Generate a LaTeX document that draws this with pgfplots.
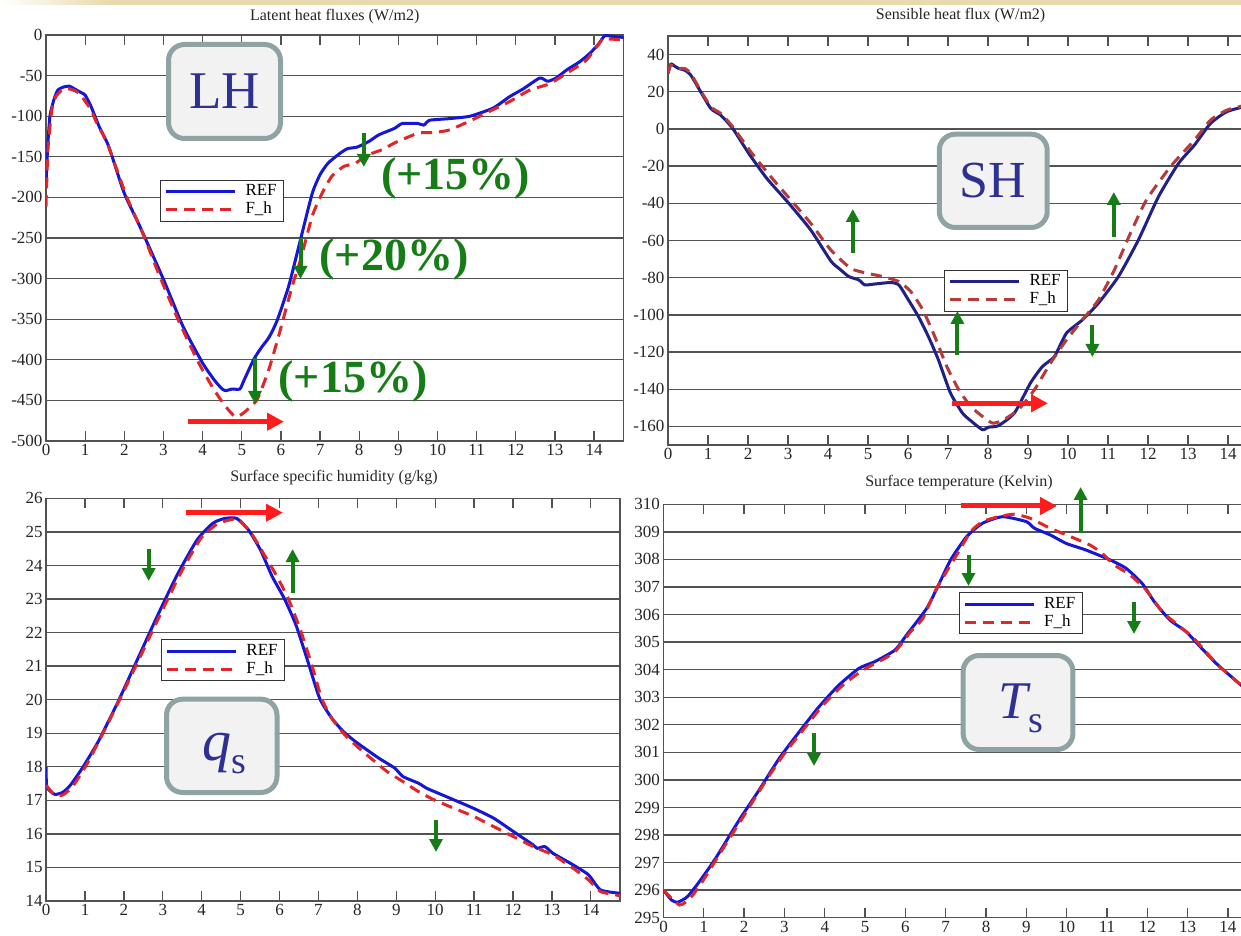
\documentclass[border=0pt]{standalone}
\usepackage{pgfplots}
\pgfplotsset{compat=1.18}
\usepackage{fontspec}
\setmainfont{Liberation Serif}
\usetikzlibrary{arrows.meta}

\definecolor{refblue}{RGB}{22,22,215}
\definecolor{fhred}{RGB}{225,38,42}
\definecolor{shblue}{RGB}{32,32,135}
\definecolor{shred}{RGB}{182,58,58}
\definecolor{gridgray}{RGB}{82,82,82}
\definecolor{boxedge}{RGB}{143,163,164}
\definecolor{boxfill}{RGB}{242,242,242}
\definecolor{labelblue}{RGB}{46,49,146}
\definecolor{annogreen}{RGB}{22,125,22}
\definecolor{annored}{RGB}{255,28,28}
\definecolor{beige}{RGB}{232,218,172}

\pgfplotsset{
  panel/.style={
    scale only axis, anchor=south west,
    xmin=0, xmax=14.75, xtick={0,...,14},
    ymajorgrids, grid style={gridgray, line width=1.3pt},
    axis line style={gridgray, line width=1.3pt},
    tick style={gridgray, line width=1.3pt},
    tick align=inside, major tick length=10pt,
    ticklabel style={font=\fontsize{17}{19}\selectfont, black!85},
    /pgf/number format/assume math mode=true,
    legend cell align=left,
    legend image code/.code={\draw[##1] (0pt,0pt) -- (69pt,0pt);},
    legend style={anchor=north west, draw=black!80, line width=1pt, fill=white,
      font=\fontsize{17}{17}\selectfont, inner xsep=4pt, inner ysep=2.5pt,
      row sep=0pt,
      nodes={inner xsep=3pt, inner ysep=1pt, text height=12pt, text depth=4pt},
      /tikz/every odd column/.append style={column sep=6pt}},
  },
  ref/.style={line width=3pt, line join=round, smooth, tension=0.35},
  fh/.style={line width=3pt, dash pattern=on 11pt off 7pt, smooth, tension=0.35},
}

\tikzset{
  garrow/.style={annogreen, line width=4pt, -{Triangle[width=13pt,length=13pt]}},
  rarrow/.style={annored, line width=5pt, -{Triangle[width=17pt,length=17pt]}},
  pct/.style={annogreen, inner sep=0pt, font=\bfseries\fontsize{46}{46}\selectfont},
  lbox/.style={boxedge, line width=5pt, fill=boxfill, rounded corners=16pt},
  ttl/.style={font=\fontsize{16}{18}\selectfont, black!85},
}

\begin{document}
\begin{tikzpicture}
\useasboundingbox (0pt,0pt) rectangle (1241pt,935pt);
\fill[white] (0pt,0pt) rectangle (1241pt,935pt);
\begin{scope}
\clip (0pt,0pt) rectangle (1241pt,935pt);

% ---------------- Latent heat flux ----------------
\begin{axis}[panel, at={(46pt,494pt)}, width=577.5pt, height=406pt,
  ymin=-500, ymax=0, ytick={-500,-450,...,0},
  yticklabels={-500,-450,-400,-350,-300,-250,-200,-150,-100,-50,0},
  legend style={at={(rel axis cs:0.1974,0.6429)}}]
\addplot[refblue, ref] coordinates {
(0,-185) (0.04,-140) (0.1,-100) (0.2,-80) (0.3,-68) (0.45,-64) (0.6,-63)
(0.75,-67) (0.9,-71) (1.0,-74) (1.15,-88) (1.36,-113) (1.6,-137) (2.0,-195)
(2.4,-236) (3.0,-301) (3.5,-359) (4.0,-404) (4.3,-425) (4.5,-436) (4.6,-438)
(4.75,-436) (4.95,-436) (5.05,-426) (5.3,-400) (5.5,-385) (5.7,-372) (5.9,-352)
(6.2,-309) (6.5,-252) (6.8,-195) (7.0,-172) (7.2,-158) (7.5,-146) (7.7,-140)
(7.95,-138) (8.25,-131) (8.5,-123) (8.9,-115) (9.1,-109) (9.5,-109) (9.65,-111)
(9.8,-105) (10.3,-103) (10.83,-100) (11.42,-90) (11.84,-76) (12.2,-66)
(12.61,-53) (12.81,-57) (13.03,-53) (13.3,-43) (13.63,-33) (13.88,-23)
(14.1,-12) (14.27,-1) (14.5,-2) (14.75,-3)};
\addlegendentry{REF}
\addplot[fhred, fh] coordinates {
(0,-211) (0.05,-141) (0.15,-92) (0.25,-76) (0.4,-68) (0.55,-66) (0.7,-68)
(0.85,-72) (1.15,-92) (1.3,-109) (1.56,-133) (2.06,-199) (2.47,-244)
(2.87,-293) (3.37,-350) (3.88,-402) (4.28,-436) (4.58,-457) (4.83,-470)
(5.03,-466) (5.39,-449) (5.69,-412) (5.94,-371) (6.29,-309) (6.5,-277)
(6.8,-223) (7.05,-195) (7.3,-174) (7.6,-162) (7.9,-158) (8.2,-148) (8.6,-141)
(8.9,-133) (9.5,-121) (9.9,-120) (10.3,-117) (10.91,-104) (11.33,-94)
(11.84,-82) (12.35,-68) (12.86,-60) (13.37,-45) (13.8,-31) (14.22,-5)
(14.4,-5) (14.75,-6)};
\addlegendentry{F\_h}
\end{axis}

% ---------------- Sensible heat flux ----------------
\begin{axis}[panel, at={(668pt,490pt)}, width=590pt, height=409pt,
  ymin=-170, ymax=50, ytick={-160,-140,...,40},
  yticklabels={-160,-140,-120,-100,-80,-60,-40,-20,0,20,40},
  legend style={at={(rel axis cs:0.4678,0.4279)}}]
\addplot[shblue, ref] coordinates {
(0,30) (0.07,35) (0.15,34) (0.27,32.5) (0.42,31.6) (0.57,28.9) (0.77,21.7)
(1.07,11) (1.32,7.4) (1.62,0.2) (2.02,-13.2) (2.47,-26.6) (3.02,-40)
(3.57,-54.4) (4.07,-71) (4.3,-75.5) (4.52,-79.4) (4.77,-81.2) (4.92,-83.9)
(5.17,-83.4) (5.57,-82.6) (5.77,-83.9) (5.96,-90.2) (6.26,-100.9)
(6.51,-111.7) (6.76,-124.2) (7.06,-142) (7.36,-152.8) (7.56,-156.8)
(7.86,-161.8) (8.01,-160.4) (8.26,-159.6) (8.66,-152.8) (9.06,-136.7)
(9.36,-127.8) (9.66,-122.4) (9.96,-109.9) (10.36,-102.7) (10.76,-93.7)
(11.26,-79.4) (11.76,-59.7) (12.26,-36.5) (12.76,-18.6) (13.16,-8.7)
(13.56,2.9) (13.96,9.2) (14.44,12.2) (14.75,13.5)};
\addlegendentry{REF}
\addplot[shred, fh] coordinates {
(0,29.8) (0.07,34.3) (0.27,32.5) (0.42,32.5) (0.57,29.8) (0.77,22.3)
(1.07,11.9) (1.32,8.3) (1.62,1.1) (2.07,-12.3) (2.57,-25.7) (3.07,-38.2)
(3.57,-50.8) (4.07,-65.1) (4.57,-75) (4.97,-77.6) (5.37,-79.4) (5.77,-82.1)
(6.07,-87.5) (6.37,-97.3) (6.67,-111.7) (6.97,-127.8) (7.27,-140.3)
(7.57,-149.3) (7.86,-154.6) (8.11,-158.2) (8.36,-156.8) (8.76,-151)
(9.16,-140.3) (9.56,-126) (9.96,-113.5) (10.36,-102.7) (10.76,-92)
(11.16,-75.8) (11.56,-56.1) (11.96,-38.2) (12.56,-20.3) (13.16,-6)
(13.56,4.7) (13.96,10) (14.44,12.8) (14.75,14)};
\addlegendentry{F\_h}
\end{axis}

% ---------------- Surface specific humidity ----------------
\begin{axis}[panel, at={(46.1pt,34pt)}, width=573.9pt, height=402.7pt,
  ymin=14, ymax=26, ytick={14,...,26},
  yticklabels={14,15,16,17,18,19,20,21,22,23,24,25,26},
  legend style={at={(rel axis cs:0.2002,0.6506)}}]
\addplot[refblue, ref] coordinates {
(0,18.0) (0.02,17.4) (0.22,17.18) (0.43,17.24) (0.63,17.46) (0.93,17.96)
(1.34,18.75) (1.85,19.94) (2.36,21.23) (2.87,22.52) (3.37,23.72) (3.88,24.76)
(4.29,25.26) (4.59,25.4) (4.9,25.4) (5.2,25.06) (5.51,24.46) (5.81,23.67)
(6.12,23.02) (6.42,22.23) (6.73,21.13) (7.03,20.04) (7.34,19.45) (7.64,19.05)
(7.95,18.75) (8.25,18.5) (8.56,18.25) (8.96,17.96) (9.17,17.71) (9.57,17.51)
(9.78,17.36) (9.98,17.26) (10.49,17.01) (10.99,16.76) (11.5,16.47)
(12.01,16.07) (12.52,15.67) (12.62,15.57) (12.82,15.62) (13.03,15.42)
(13.54,15.08) (13.94,14.78) (14.25,14.33) (14.75,14.23)};
\addlegendentry{REF}
\addplot[fhred, fh] coordinates {
(0,17.45) (0.22,17.16) (0.43,17.16) (0.68,17.41) (1.04,18.06) (1.44,18.95)
(1.95,20.14) (2.46,21.38) (2.97,22.62) (3.48,23.82) (3.98,24.81) (4.39,25.23)
(4.7,25.35) (4.95,25.37) (5.3,24.91) (5.61,24.31) (5.91,23.72) (6.22,23.02)
(6.52,22.13) (6.83,21.03) (7.08,20.04) (7.34,19.45) (7.64,19.0) (7.95,18.65)
(8.35,18.25) (8.76,17.86) (9.17,17.56) (9.57,17.26) (9.98,17.01) (10.49,16.76)
(10.99,16.52) (11.5,16.22) (12.01,15.92) (12.52,15.62) (13.03,15.37)
(13.54,14.98) (13.94,14.63) (14.25,14.28) (14.75,14.16)};
\addlegendentry{F\_h}
\end{axis}

% ---------------- Surface temperature ----------------
\begin{axis}[panel, at={(663.5pt,17.3pt)}, width=594.7pt, height=413.4pt,
  ymin=295, ymax=310, ytick={295,...,310},
  yticklabels={295,296,297,298,299,300,301,302,303,304,305,306,307,308,309,310},
  legend style={at={(rel axis cs:0.4962,0.7878)}}]
\addplot[refblue, ref] coordinates {
(0,296.0) (0.2,295.64) (0.35,295.56) (0.59,295.76) (0.89,296.31) (1.29,297.15)
(1.88,298.55) (2.37,299.63) (2.87,300.78) (3.37,301.75) (3.86,302.66)
(4.35,303.44) (4.85,304.05) (5.24,304.29) (5.74,304.71) (6.03,305.26)
(6.53,306.23) (6.82,307.07) (7.12,307.98) (7.52,308.83) (7.91,309.31)
(8.41,309.55) (9.0,309.37) (9.2,309.13) (9.59,308.89) (9.99,308.58)
(10.48,308.34) (11.08,307.98) (11.47,307.68) (11.87,307.13) (12.17,306.47)
(12.56,305.8) (12.96,305.38) (13.35,304.77) (13.75,304.17) (14.42,303.32)
(14.75,302.9)};
\addlegendentry{REF}
\addplot[fhred, fh] coordinates {
(0,296.0) (0.4,295.46) (0.69,295.76) (0.99,296.37) (1.48,297.52) (1.98,298.67)
(2.47,299.81) (2.97,300.9) (3.46,301.81) (3.96,302.72) (4.45,303.44)
(4.95,303.99) (5.34,304.29) (5.74,304.65) (6.13,305.38) (6.43,305.86)
(6.73,306.83) (7.02,307.56) (7.32,308.28) (7.62,309.01) (7.91,309.37)
(8.31,309.55) (8.7,309.64) (9.1,309.49) (9.59,309.13) (10.09,308.83)
(10.58,308.52) (10.88,308.22) (11.18,307.8) (11.57,307.44) (11.97,306.89)
(12.37,306.1) (12.76,305.62) (13.15,305.14) (13.75,304.17) (14.42,303.32)
(14.75,302.9)};
\addlegendentry{F\_h}
\end{axis}

% annotations, positioned with the origin at the top-left corner
\begin{scope}[shift={(0pt,935pt)}, x=1pt, y=-1pt]
\fill[beige] (110,0) rectangle (1241,5);
\shade[left color=white, right color=beige] (0,0) rectangle (110,5);

% panel titles
\node[ttl] at (334.7,17) {Latent heat fluxes (W/m2)};
\node[ttl] at (960.6,16) {Sensible heat flux (W/m2)};
\node[ttl] at (334,478) {Surface specific humidity (g/kg)};
\node[ttl] at (959,483) {Surface temperature (Kelvin)};

% variable badges
\draw[lbox] (168.5,44.5) rectangle (280.5,138.5);
\node[labelblue, font=\fontsize{53}{53}\selectfont] at (224.5,91.5) {LH};
\draw[lbox] (939.3,134.2) rectangle (1047.2,227.5);
\node[labelblue, font=\fontsize{52}{52}\selectfont] at (993.2,181) {SH};
\draw[lbox] (166.5,699.2) rectangle (277,792.5);
\node[labelblue, anchor=base, inner sep=0pt] at (224.3,760)
  {\fontsize{58}{58}\selectfont\itshape q\raisebox{-13pt}{\fontsize{38}{38}\selectfont\upshape s}};
\draw[lbox] (963.1,655.5) rectangle (1072.9,749.5);
\node[labelblue, anchor=base, inner sep=0pt] at (1021,718)
  {\fontsize{53}{53}\selectfont\itshape T\raisebox{-14pt}{\fontsize{38}{38}\selectfont\upshape s}};

% LH annotations
\draw[rarrow] (187.8,421.7) -- (284,421.7);
\draw[garrow] (363.8,133) -- (363.8,167);
\draw[garrow] (300.5,238) -- (300.5,279);
\draw[garrow] (255,358) -- (255,404);
\node[pct] at (455.7,178) {(+15\%)};
\node[pct] at (394,259) {(+20\%)};
\node[pct] at (353,381) {(+15\%)};

% SH annotations
\draw[rarrow] (951.8,403.3) -- (1048,403.3);
\draw[garrow] (852.8,253) -- (852.8,209);
\draw[garrow] (957.4,355) -- (957.4,311);
\draw[garrow] (1113.8,237) -- (1113.8,192);
\draw[garrow] (1092.4,325) -- (1092.4,357);

% qs annotations
\draw[rarrow] (185.8,512.7) -- (283,512.7);
\draw[garrow] (148.7,549) -- (148.7,581);
\draw[garrow] (292.6,593) -- (292.6,549);
\draw[garrow] (436,820) -- (436,852);

% Ts annotations
\draw[rarrow] (960.6,506) -- (1057,506);
\draw[garrow] (1080.6,533) -- (1080.6,487);
\draw[garrow] (968.5,555) -- (968.5,586);
\draw[garrow] (1134,602) -- (1134,634);
\draw[garrow] (814,733) -- (814,766);
\end{scope}
\end{scope}
\end{tikzpicture}
\end{document}
